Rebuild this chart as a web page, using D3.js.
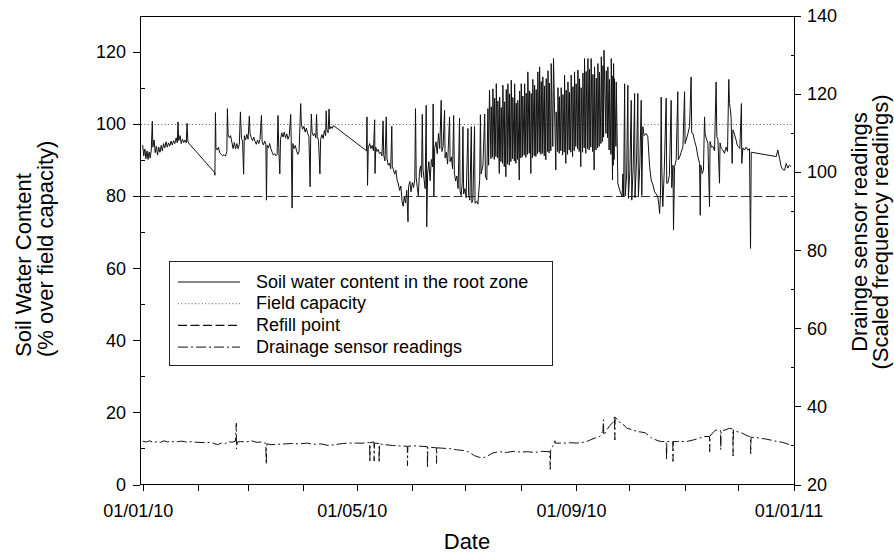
<!DOCTYPE html>
<html>
<head>
<meta charset="utf-8">
<script src="https://cdn.jsdelivr.net/npm/d3@7"></script>
<style>
  body { margin: 0; background: #fff; }
  svg { display: block; font-family: "Liberation Sans", Arial, sans-serif; }
</style>
</head>
<body>
<svg id="chart" width="894" height="556"></svg>
<script>
// readings are [day of 2010 (0 = 1 Jan), value]
const swcJanFeb = [
  [0,94.2],[0.6,91.2],[1.2,93.1],[1.8,90.4],[2.4,92.6],[3,90.2],[3.6,92.3],[4.2,90.6],[4.8,92.8],[5.4,100.8],
  [5.7,93.6],[6.4,95.6],[7,92.1],[7.7,93.9],[8.3,91.4],[9,93.6],[9.7,92.2],[10.4,94.1],[11,92.6],[11.7,94.6],
  [12.4,93.4],[13.1,95.1],[13.8,93.6],[14.5,94.8],[15.2,93.9],[15.9,95.3],[16.6,94.2],[17.3,95.4],[18,94.6],
  [18.8,96.2],[19.4,94.8],[19.8,100.6],[20.2,95.4],[21,96.8],[21.6,94.6],[22.3,95.8],[23,94.9],[23.7,95.6],
  [24.4,94.8],[24.9,100.2],[25.3,95.3],[26,94.6],
  [40.3,86.6],[40.5,85.8],[40.8,103.2],[41.1,93.4],[41.8,92.8],[42.5,93.6],[43.2,92.1],[44,91.6],[44.8,91.2],
  [45.6,91.5],[46.4,91.1],[47.2,92.4],[47.5,104.3],[47.9,97],[48.6,96.2],[49.3,96.8],[50,95],[50.7,93.2],
  [51.4,94.9],[52.1,93.1],[52.8,94.6],[53.5,93.2],[54.2,94.4],[54.8,103.4],[55.4,96],[56,95.4],[56.6,86.1],
  [57,96.8],[57.7,95.6],[58.4,97.2]
]

const swcMarApr = [
  [59.1,95.8],[59.8,102.2],[60.2,97.4],[60.9,96.2],[61.6,95.4],[62.3,96.4],[63,95.2],[63.7,94.4],[64.4,95.6],
  [65.1,94.6],[65.8,95.8],[66.6,102.4],[67,95.1],[67.7,94.2],[68.4,95.3],[69.1,94.4],[69.4,78.9],[69.8,94.1],
  [70.5,93.4],[71.2,94.6],[71.9,93.1],[72.6,92.2],[73.3,91.4],[74,91.8],[74.7,91.2],[75.4,91.6],[75.9,102.4],
  [76.3,93.5],[76.9,86.2],[77.3,95.8],[78,97.6],[78.7,96.4],[79.4,97.8],[80.1,96.1],[80.8,97.3],[81.5,95.8],
  [82.2,96.8],[83,102.7],[83.3,95.4],[83.8,76.7],[84.2,94.6],[84.9,93.2],[85.6,94.1],[86.3,92.6],[87,91.6],
  [87.7,92.4],[88.6,105.7],[89,99.8],[89.7,98.6],[90.4,99.4],[91.1,97.8],[91.8,98.9],[92.5,97.4],[93.2,96.6],
  [93.9,82.6],[94.2,96.2],[94.6,102.8],[95,97.8],[95.7,96.8],[96.4,97.4],[97.1,96.2],[97.5,102.7],[97.9,96.6],
  [98.6,95.4],[99.4,86.2],[99.8,95.8],[100.5,97.1],[101.2,96],[101.9,98.2],[102.6,96.8],[102.9,103.7],
  [103.3,98.4],[104,97.6],[104.5,104.2],[104.9,98.6],[105.6,99.3],[106.3,98.8],[107,99.6]
]

const swcMayJun = [
  [125.5,92.6],[125.8,102],[126.1,83],[126.5,93.4],[127.3,94.6],[128,93.2],[128.7,94.1],[129.4,92.6],
  [130.1,101.2],[130.3,86.3],[130.7,93.6],[131.4,92.4],[132.1,93],[132.8,91.8],[133.5,92.2],[134.2,91.2],
  [134.8,100.9],[135.2,91.3],[135.9,89.8],[136.6,102],[137,90.4],[137.7,88.6],[138.4,89.2],[139.1,87.6],
  [139.7,99.4],[140,88.2],[140.6,87.4],[141.3,86.1],[142,87.2],[142.7,84.4],[143.4,83.4],[144.1,81.6],
  [144.8,82.8],[145.5,78.4],[146.1,77.2],[146.7,79.8],[147.4,78.1],[148.1,81.6],[148.8,72.9],[149.1,82.6],
  [149.8,84.1],[150.5,81.2],[151.2,83.8],[151.9,82.4],[152.6,84.6],[153,104.3],[153.4,85.2],[154,82.4],
  [154.6,80.1],[155.2,86.6],[155.8,88.4],[156.4,85.2],[156.8,102.7],[157.2,87.6],[157.8,84.6],[158.4,82.1],
  [159,105.2],[159.3,71.5],[159.8,86.4],[160.5,89.6],[161.2,84.3],[161.9,90.2],[162.6,88.1],[162.9,105.6],
  [163.3,80],[163.8,93.4],[164.5,95.1],[165.2,91.8],[165.9,97.4],[166.6,93.2],[167.4,106.6],[167.8,92.4],
  [168.5,93.8],[169.3,103.8],[169.6,90.6],[170.3,92.2],[171,88.9],[172.1,102],[172.4,89.6],[173.1,90.9],
  [173.8,87.6],[174.4,102.4],[174.8,86.4],[175.5,84.2],[176.2,85.6],[176.9,82.1],[177.7,101.6],[178,81.4],
  [178.6,80.2],[179.2,83.6],[179.6,99.3],[180,80.6],[180.7,82.1]
]

const swcJulAug = [
  [181.4,79.6],[182.4,98.8],[182.8,80.2],[183.5,78.9],[184.3,99.3],[184.6,78.2],[185.2,79.1],[186.1,99.3],
  [186.4,78],[187.3,78.6],[188,77.8],[189,84.6],[189.4,102.6],[189.8,86.2],[190.8,88.4],[191.8,102.8],
  [192.2,85.6],[193,84.5],[193.6,104.3],[194,88.6],[194.5,109.4],[195.3,90.4],[195.5,104.8],[196.2,90.8],
  [196.4,109.8],[197.2,90.2],[197.4,107.2],[198.1,91],[198.3,111.2],[199.1,90.6],[199.2,106.4],[200,86.3],
  [200.2,107.5],[200.9,89.6],[201.1,104.6],[201.8,89.1],[202,110.8],[202.8,88.2],[203,106.2],[203.7,85.4],
  [203.9,109.6],[204.6,88.9],[204.8,111.2],[205.6,88.6],[205.8,108.4],[206.5,89.6],[206.7,112.2],[207.4,90.4],
  [207.6,107.4],[208.4,89.8],[208.6,111.2],[209.3,89.1],[209.5,105.8],[210.2,90.2],[210.4,106.6],[211.2,84.5],
  [211.4,109.2],[212.1,90.6],[212.3,111.2],[213,91],[213.2,107.8],[214,91.4],[214.2,111.2],[214.9,90.8],
  [215.1,108.6],[215.8,91.6],[216,114.5],[216.8,91.9],[217,109.2],[217.7,86.3],[217.9,108.5],[218.6,90.6],
  [218.8,112.4],[219.6,91.2],[219.8,110.8],[220.5,91],[220.7,109.6],[221.4,91.8],[221.6,114.5],[222.4,92.2],
  [222.6,115.9],[223.3,91.6],[223.5,111.8],[224.2,91.9],[224.4,113.1],[225.2,91.2],[225.4,110.6],[226.1,90.1],
  [226.3,112.6],[227.1,92.4],[227.3,114.8],[227.9,92],[228.1,111.4],[228.9,92.6],[229.1,116.8],[230,93.8],
  [230.4,118.2],[231.7,87.3],[231.9,103.4],[232.7,92.4],[232.9,110.1],[233.6,91.9],[233.8,107.6],[234.5,92.6],
  [234.7,110.1],[235.5,91.4],[235.7,108.2],[236.4,92.2],[236.6,113.6],[237.3,89.1],[237.5,109.4],[238.3,91.6],
  [238.5,111.7],[239.2,92.8],[239.4,108.8],[240.1,92.2],[240.3,113.6],[241.1,91],[241.3,110.4],[242,92.6],
  [242.2,114.5],[242.9,93.8]
]

const swcSepOct = [
  [243.1,111.2],[243.9,93.2],[244.1,115],[244.8,92.4],[245,112.6],[245.7,88.2],[245.9,110.1],[246.7,92.2],
  [246.9,114.2],[247.6,93.4],[247.8,118.2],[248.5,91.9],[248.7,114.6],[249.5,93.2],[249.7,118.2],[250.4,92.8],
  [250.6,115.2],[251.3,93.6],[251.5,118.2],[252.3,92.4],[252.5,113.8],[253.2,87.3],[253.4,115.9],[254.2,92.8],
  [254.4,112.8],[255.1,93.4],[255.3,116.8],[256,93.8],[256.2,114.4],[257,94.6],[257.2,118.7],[257.9,95.2],
  [258.1,116.2],[258.5,96.4],[258.7,120.5],[259.8,97.4],[260,114.8],[260.7,96.2],[260.9,115.9],[261.6,92.8],
  [261.8,112.4],[262.6,91.6],[262.8,118.2],[263.5,84.5],[263.7,113.4],[263.9,88.6],[264.1,116.8],[264.4,90.2],
  [264.6,112.6],[265.4,93.8],[265.6,111.7],[266.5,83.6],[267.5,81.7],[268.9,79.8],[269.3,86.2],[269.7,79.8],
  [270.3,111.2],[270.6,80.1],[271.4,85.6],[272.1,110.8],[272.4,79.4],[273.2,86.8],[274,106.6],[274.3,78.9],
  [275.1,88.2],[275.9,108.5],[276.1,79.6],[277,90.6],[277.7,108.5],[278,79.8],[278.8,88.4],[279.6,106.6],
  [279.9,80.2],[280.5,99.3],[281.2,96.8],[282.4,97.4],[283.3,96.5],[284.3,88.2],[285.2,84.5],[286.2,83.1],
  [287.1,81.2],[288,80.6],[288.9,79.8],[289.5,77.6],[289.9,75.2],[290.4,80.2],[290.8,107.5],[291.1,88.4],
  [291.7,77.1],[292.5,86.8],[293.6,107.2],[293.9,83.6],[294.5,83.6],[295.4,85.8],[296.4,106.6],[296.7,82.4],
  [297.4,88.6],[297.7,70.6],[298.3,88.2],[299.2,90.1],[300.1,109],[300.4,90.1],[301.1,90.8],[302,92.2],[303,93.8]
]

const swcNovDec = [
  [303.9,109],[304.2,94.6],[304.8,95.6],[305.8,97.4],[306.7,99.3],[307.6,113.1],[307.9,97.6],[308.6,97.4],
  [309.5,95.4],[310.4,93.8],[311.3,91.2],[312.3,89.1],[312.7,74.7],[313,88.6],[313.8,86.3],[314.5,87.2],
  [315.1,102],[315.4,97.4],[316,96.2],[317,94.6],[317.9,77.1],[318.2,95.2],[319,93.6],[319.8,93.8],[320.7,92.6],
  [321.6,111.7],[322,96.5],[322.6,95.8],[323.5,83.6],[323.8,94.8],[324.5,93.2],[325.4,92.8],[326.3,91.9],
  [327.2,93.6],[328,92.4],[328.7,112.4],[329.1,105.7],[329.5,104.6],[330,101.8],[330.6,89.1],[331,98.4],
  [331.9,97.2],[332.8,95.6],[333.4,94.2],[334,93.8],[334.9,93.2],[335.8,105.7],[336,89.1],[336.6,93.4],
  [337.5,92.8],[338.4,93.6],[339.4,92.8],[340.3,93.2],[340.9,65.5],[341.3,92.2],
  [355.3,91],[356.2,92.8],[357.2,90.4],[358.1,88.2],[359,87.4],[360,87.2],[360.9,89.1],[361.8,87.8],
  [362.7,88.6],[363.7,88.2]
]

// drainage sensor, right axis (scaled frequency)
const drainageJanJun = [
  [0,31.1],[2,30.9],[4,31.2],[6,30.7],[8,31],[10,30.8],[12,31.2],[14,30.9],[16,31.1],[18,30.8],[20,31],
  [22,31.1],[24,30.9],[26,31],[28,30.9],[31,30.8],[35,30.7],[38,30.8],[40,30.5],[42,30.2],[44,30.6],[46,30.4],
  [48,31],[50,30.8],[52,31.1],[52.5,35.7],[52.6,29.1],[53,30.9],[55,31],[58,30.9],[61,31.2],[64,30.8],[67,30.9],
  [69,30.5],[69.3,25.2],[69.6,30.4],[72,30.2],[76,30.3],[80,30.4],[84,30.5],[88,30.4],[92,30.6],[96,30.3],
  [100,30.4],[104,30],[108,30.2],[112,30.5],[116,30.6],[120,30.6],[124,30.6],[127.3,30.8],[127.4,25.7],
  [127.6,30.7],[129.7,30.9],[129.8,26],[130,30.6],[132.5,30.5],[132.6,25.6],[132.8,30.4],[136,30.2],[140,30],
  [144,29.9],[148.4,29.8],[148.5,24.8],[148.7,29.8],[152,29.9],[156,29.8],[159.6,29.7],[159.7,24.2],
  [159.9,29.6],[162,29.5],[164.7,29.4],[164.8,25.4],[165,29.4],[168,29.3],[172,29.2],[176,28.9],[180,28.7]
]

const drainageJulDec = [
  [182.4,28.4],[183.3,28.2],[186,27.4],[188.5,27],[190.8,26.8],[193,27.2],[196.4,28.1],[200,28.4],[204,28.2],
  [208,28.5],[212,28.3],[216,28.4],[220,28.2],[224,28.5],[228.2,28.4],[228.6,23.9],[228.8,28.9],[230,29.8],
  [231,30.6],[231.2,31.2],[231.4,30.6],[236,30.6],[240,30.7],[244,30.6],[246.9,30.8],[249,31],[252,31.6],
  [256.2,32.3],[258.1,33.6],[258.4,36.6],[258.6,32.6],[260,33.8],[262,35.1],[263.7,35.9],[264.6,37.4],
  [264.8,31.4],[265,37.2],[266.5,36.6],[268,35.7],[270,35.2],[271.5,34.4],[275,34],[277,33.6],[280,33.4],
  [282,33.2],[285.4,31.9],[289,31.2],[291,31],[293.6,31],[293.8,26.3],[294,31],[297.3,31],[297.4,25.9],
  [297.6,31],[300,31],[305,31],[308.8,31.4],[312.3,31.9],[315,32.3],[317.9,32.3],[318,28.4],[318.2,32.4],
  [320,33.4],[321.6,34],[323,33.6],[324.1,33.8],[324.2,28.9],[324.4,33.8],[327,34],[329,34.4],[331,34.2],
  [331.1,27.3],[331.3,34],[333,33.6],[336,33.2],[339,32.5],[340.3,32.3],[340.9,32.2],[341,27.9],[341.2,32.1],
  [345.9,31.9],[350,31.6],[353,31.3],[356,31],[359,30.8],[362.7,30.2]
]

const fieldCapacity = 100
const refillPoint = 80
const leftTicks = [0, 20, 40, 60, 80, 100, 120]
const leftMinorTicks = [10, 30, 50, 70, 90, 110]
const rightTicks = [20, 40, 60, 80, 100, 120, 140]
const rightMinorTicks = [30, 50, 70, 90, 110, 130]
const xTickLabels = ["01/01/10", "01/05/10", "01/09/10", "01/01/11"]
const legendLabels = [
  "Soil water content in the root zone",
  "Field capacity",
  "Refill point",
  "Drainage sensor readings"
]

const config = {
  frame: {left: 140, right: 794, top: 16, bottom: 484},
  xRange: [142.7, 793.5],
  tickFont: 18,
  titleFont: 22,
  dashes: {
    solid: null,
    dotted: "1,2.4",
    dashed: "9,3.5",
    dashDot: "10,3,2,3"
  }
}

const yearStart = Date.UTC(2010, 0, 1)
const dayToDate = (day) => new Date(yearStart + day * 864e5)

const svg = d3.select("#chart")
const f = config.frame

const xScale = d3.scaleUtc()
    .domain([dayToDate(0), dayToDate(365)])
    .range(config.xRange)
const yScale = d3.scaleLinear().domain([0, 130]).range([f.bottom + 0.5, f.top])
const y2Scale = d3.scaleLinear().domain([20, 140]).range([f.bottom + 0.5, f.top])

function styleAxis (g) {
  g.attr("font-size", config.tickFont)
    .attr("font-family", null)
  g.selectAll("line, path").attr("stroke", "#000").attr("shape-rendering", "crispEdges")
  g.selectAll("text").attr("fill", "#000")
}

function drawAxes () {
  // frame: top line (bottom one is the x axis domain)
  svg.append("line")
      .attr("x1", f.left + 0.5).attr("x2", f.right + 0.5)
      .attr("y1", f.top + 0.5).attr("y2", f.top + 0.5)
      .attr("stroke", "#000").attr("shape-rendering", "crispEdges")

  const left = svg.append("g")
      .attr("transform", `translate(${f.left},0)`)
      .call(d3.axisLeft(yScale).tickValues(leftTicks).tickSize(7).tickPadding(7).tickSizeOuter(0))
  left.select(".domain").attr("d", `M0.5,${f.bottom + 0.5}V${f.top}`)
  left.selectAll(".minor").data(leftMinorTicks).enter()
    .append("line").attr("class", "minor")
      .attr("x1", 0.5).attr("x2", 4.5)
      .attr("y1", (d) => Math.round(yScale(d)) + 0.5)
      .attr("y2", (d) => Math.round(yScale(d)) + 0.5)
  styleAxis(left)

  const right = svg.append("g")
      .attr("transform", `translate(${f.right},0)`)
      .call(d3.axisRight(y2Scale).tickValues(rightTicks).tickSize(7).tickPadding(6).tickSizeOuter(0))
  right.select(".domain").attr("d", `M0.5,${f.bottom + 0.5}V${f.top}`)
  right.selectAll(".minor").data(rightMinorTicks).enter()
    .append("line").attr("class", "minor")
      .attr("x1", 0.5).attr("x2", -3.5)
      .attr("y1", (d) => Math.round(y2Scale(d)) + 0.5)
      .attr("y2", (d) => Math.round(y2Scale(d)) + 0.5)
  styleAxis(right)

  const fmt = d3.utcFormat("%d/%m/%y")
  const months = d3.utcMonth.range(dayToDate(0), dayToDate(366))
  const bottom = svg.append("g")
      .attr("transform", `translate(0,${f.bottom})`)
      .call(d3.axisBottom(xScale).tickValues(months).tickSize(7).tickPadding(13).tickSizeOuter(0)
        .tickFormat((d) => xTickLabels.includes(fmt(d)) ? fmt(d) : ""))
  bottom.select(".domain").attr("d", `M${f.left + 0.5},0.5H${f.right + 0.5}`)
  bottom.selectAll(".tick text").attr("dx", -5)
  styleAxis(bottom)

  // axis titles
  const leftTitle = svg.append("g")
      .attr("transform", "translate(0,357) rotate(-90)")
      .attr("font-size", config.titleFont)
  leftTitle.append("text").attr("y", 31).text("Soil Water Content")
  leftTitle.append("text").attr("y", 53).text("(% over field capacity)")

  const rightTitle = svg.append("g")
      .attr("transform", "translate(0,232) rotate(-90)")
      .attr("font-size", config.titleFont)
      .attr("text-anchor", "middle")
  rightTitle.append("text").attr("y", 867).text("Drainge sensor readings")
  rightTitle.append("text").attr("y", 888).text("(Scaled frequency readings)")

  svg.append("text")
      .attr("x", (f.left + f.right) / 2)
      .attr("y", 549)
      .attr("text-anchor", "middle")
      .attr("font-size", config.titleFont)
      .text("Date")
}

function drawMarks () {
  const soilLine = d3.line()
      .x((d) => xScale(dayToDate(d[0])))
      .y((d) => yScale(d[1]))
  const drainLine = d3.line()
      .x((d) => xScale(dayToDate(d[0])))
      .y((d) => y2Scale(d[1]))

  const marks = svg.append("g").attr("class", "mark-group")

  // reference lines
  const refs = [
    {value: fieldCapacity, dash: config.dashes.dotted, color: "#555", width: 1},
    {value: refillPoint, dash: config.dashes.dashed, color: "#333", width: 1.2}
  ]
  marks.selectAll(".ref").data(refs).enter()
    .append("line").attr("class", "ref")
      .attr("x1", f.left + 1).attr("x2", f.right)
      .attr("y1", (d) => Math.round(yScale(d.value)) + 0.5)
      .attr("y2", (d) => Math.round(yScale(d.value)) + 0.5)
      .attr("stroke", (d) => d.color)
      .attr("stroke-width", (d) => d.width)
      .attr("stroke-dasharray", (d) => d.dash)

  const soil = [].concat(swcJanFeb, swcMarApr, swcMayJun, swcJulAug, swcSepOct, swcNovDec)
  marks.append("path")
      .attr("class", "mark line")
      .attr("d", soilLine(soil))
      .style("fill", "none")
      .style("stroke", "#111")
      .style("stroke-width", 1)

  const drainage = [].concat(drainageJanJun, drainageJulDec)
  marks.append("path")
      .attr("class", "mark line y2-line")
      .attr("d", drainLine(drainage))
      .style("fill", "none")
      .style("stroke", "#111")
      .style("stroke-width", 1)
      .attr("stroke-dasharray", config.dashes.dashDot)
}

function drawLegend () {
  const box = {x: 169.5, y: 261.5, w: 383, h: 104}
  const legend = svg.append("g").attr("class", "legend")
  legend.append("rect")
      .attr("x", box.x).attr("y", box.y)
      .attr("width", box.w).attr("height", box.h)
      .attr("fill", "#fff").attr("stroke", "#222")
      .attr("shape-rendering", "crispEdges")

  const styles = [config.dashes.solid, config.dashes.dotted, config.dashes.dashed, config.dashes.dashDot]
  const rows = legend.selectAll(".row").data(legendLabels).enter()
    .append("g").attr("class", "row")
      .attr("transform", (d, i) => `translate(0,${281.5 + i * 21.7})`)
  rows.append("line")
      .attr("x1", 178).attr("x2", 240)
      .attr("y1", 0.5).attr("y2", 0.5)
      .attr("stroke", (d, i) => i === 1 ? "#555" : "#111")
      .attr("stroke-width", (d, i) => i === 2 ? 1.2 : 1)
      .attr("stroke-dasharray", (d, i) => styles[i])
  rows.append("text")
      .attr("x", 256).attr("y", 6)
      .attr("font-size", config.tickFont)
      .text((d) => d)
}

drawMarks()
drawAxes()
drawLegend()
</script>
</body>
</html>
